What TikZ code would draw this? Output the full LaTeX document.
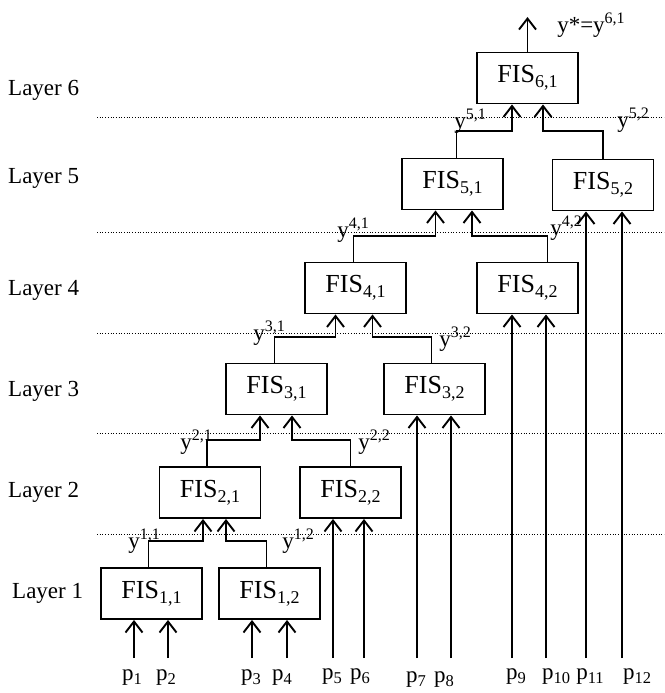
\documentclass[tikz,border=0pt]{standalone}
\usepackage{fontspec}
\setmainfont{Liberation Serif}
\usetikzlibrary{arrows.meta}
\newcommand{\fis}[2]{FIS\raisebox{-5pt}{\fontsize{18}{18}\selectfont #1,#2}}
\newcommand{\yout}[2]{y\raisebox{9pt}{\fontsize{16}{16}\selectfont #1,#2}}
\newcommand{\pin}[1]{p\raisebox{-4.5pt}{\fontsize{16.5}{16.5}\selectfont #1}}

\begin{document}
\begin{tikzpicture}[x=1pt, y=-1pt,
  font=\fontsize{23}{26}\selectfont,
  fisbox/.style={draw, line width=1.9pt, minimum width=101pt, minimum height=51pt, inner sep=0pt,
    font=\fontsize{26}{28}\selectfont},
  ar/.style={-{Straight Barb[length=11pt,width=17pt]}, line width=1.9pt},
  sep/.style={line width=1pt, dash pattern=on 1pt off 1.7pt},
  lay/.style={anchor=west, inner sep=0pt},
  lab/.style={inner sep=0pt}]
  \useasboundingbox (0,0) rectangle (664,693);

  % layer labels and separators
  \node[lay] (l6) at (8,90) {Layer 6};
  \node[lay] (l5) at (8,178) {Layer 5};
  \node[lay] (l4) at (8,290) {Layer 4};
  \node[lay] (l3) at (8,391) {Layer 3};
  \node[lay] (l2) at (8,492) {Layer 2};
  \node[lay] (l1) at (12,593) {Layer 1};
  \draw[sep] (97,117) -- (664,117);
  \draw[sep] (97,232) -- (664,232);
  \draw[sep] (97,333) -- (664,333);
  \draw[sep] (97,433) -- (664,433);
  \draw[sep] (97,534) -- (664,534);

  % fuzzy inference systems
  \node[fisbox] (f61) at (527.5,78) {\fis{6}{1}};
  \node[fisbox] (f51) at (452.5,184) {\fis{5}{1}};
  \node[fisbox] (f52) at (603,185) {\fis{5}{2}};
  \node[fisbox] (f41) at (355.5,288) {\fis{4}{1}};
  \node[fisbox] (f42) at (527.5,288) {\fis{4}{2}};
  \node[fisbox] (f31) at (276.5,389) {\fis{3}{1}};
  \node[fisbox] (f32) at (434.5,389) {\fis{3}{2}};
  \node[fisbox] (f21) at (210,492.5) {\fis{2}{1}};
  \node[fisbox] (f22) at (350.5,492.5) {\fis{2}{2}};
  \node[fisbox] (f11) at (151.5,593.5) {\fis{1}{1}};
  \node[fisbox] (f12) at (269.5,593.5) {\fis{1}{2}};

  % links between layers
  \draw[ar] ([xshift=-3pt]f11.north) -- ++(0,-26) -| ([xshift=-7pt]f21.south);
  \draw[ar] ([xshift=-3pt]f12.north) -- ++(0,-26) -| ([xshift=16pt]f21.south);
  \draw[ar] ([xshift=-3pt]f21.north) -- ++(0,-26) -| ([xshift=-16.5pt]f31.south);
  \draw[ar] (f22.north) -- ++(0,-26) -| ([xshift=15.5pt]f31.south);
  \draw[ar] ([xshift=-2pt]f31.north) -- ++(0,-26) -| ([xshift=-20pt]f41.south);
  \draw[ar] ([xshift=-3pt]f32.north) -- ++(0,-26) -| ([xshift=17pt]f41.south);
  \draw[ar] ([xshift=-2pt]f41.north) -- ++(0,-26) -| ([xshift=-17pt]f51.south);
  \draw[ar] ([xshift=20pt]f42.north) -- ++(0,-26) -| ([xshift=19.5pt]f51.south);
  \draw[ar] ([xshift=4pt]f51.north) -- ++(0,-27) -| ([xshift=-15.5pt]f61.south);
  \draw[ar] (f52.north) -- ++(0,-28) -| ([xshift=15.5pt]f61.south);
  \coordinate (top) at (527.5,17);
  \draw[ar] (f61.north) -- (top);

  % outputs
  \node[lab] (y11) at (144,541) {\yout{1}{1}};
  \node[lab] (y12) at (298,541) {\yout{1}{2}};
  \node[lab] (y21) at (196,442) {\yout{2}{1}};
  \node[lab] (y22) at (374,442) {\yout{2}{2}};
  \node[lab] (y31) at (269,333) {\yout{3}{1}};
  \node[lab] (y32) at (455,339) {\yout{3}{2}};
  \node[lab] (y41) at (353,230) {\yout{4}{1}};
  \node[lab] (y42) at (566,228) {\yout{4}{2}};
  \node[lab] (y51) at (470,121) {\yout{5}{1}};
  \node[lab] (y52) at (633,120) {\yout{5}{2}};
  \node[lab] (ystar) at (591,25) {y*=\yout{6}{1}};

  % inputs
  \coordinate (i1) at (134,658);
  \coordinate (i2) at (168,658);
  \coordinate (i3) at (252,658);
  \coordinate (i4) at (287,658);
  \coordinate (i5) at (333,658);
  \coordinate (i6) at (364,658);
  \coordinate (i7) at (417,658);
  \coordinate (i8) at (451,658);
  \coordinate (i9) at (512,658);
  \coordinate (i10) at (546,658);
  \coordinate (i11) at (586,658);
  \coordinate (i12) at (622,658);
  \draw[ar] (i1) -- (i1 |- f11.south);
  \draw[ar] (i2) -- (i2 |- f11.south);
  \draw[ar] (i3) -- (i3 |- f12.south);
  \draw[ar] (i4) -- (i4 |- f12.south);
  \draw[ar] (i5) -- (i5 |- f22.south);
  \draw[ar] (i6) -- (i6 |- f22.south);
  \draw[ar] (i7) -- (i7 |- f32.south);
  \draw[ar] (i8) -- (i8 |- f32.south);
  \draw[ar] (i9) -- (i9 |- f42.south);
  \draw[ar] (i10) -- (i10 |- f42.south);
  \draw[ar] (i11) -- (i11 |- f52.south);
  \draw[ar] (i12) -- (i12 |- f52.south);
  \node[lab, anchor=base] (p1) at (132,680) {\pin{1}};
  \node[lab, anchor=base] (p2) at (166,680) {\pin{2}};
  \node[lab, anchor=base] (p3) at (251,680) {\pin{3}};
  \node[lab, anchor=base] (p4) at (282,680) {\pin{4}};
  \node[lab, anchor=base] (p5) at (332,679) {\pin{5}};
  \node[lab, anchor=base] (p6) at (360,679) {\pin{6}};
  \node[lab, anchor=base] (p7) at (416,682) {\pin{7}};
  \node[lab, anchor=base] (p8) at (444,682) {\pin{8}};
  \node[lab, anchor=base] (p9) at (516,679) {\pin{9}};
  \node[lab, anchor=base] (p10) at (556,679) {\pin{10}};
  \node[lab, anchor=base] (p11) at (590,679) {\pin{11}};
  \node[lab, anchor=base] (p12) at (637,679) {\pin{12}};
\end{tikzpicture}
\end{document}
